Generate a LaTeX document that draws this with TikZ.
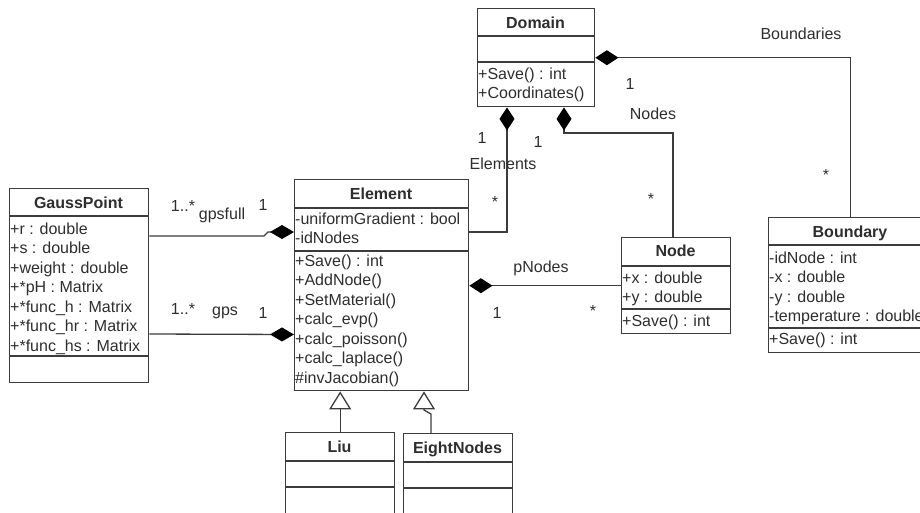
\documentclass[tikz,border=0pt]{standalone}
\usepackage{fontspec}
\setmainfont{Liberation Sans}
\usetikzlibrary{arrows.meta}
\definecolor{ln}{HTML}{3C3C3C}
\definecolor{tx}{HTML}{2E2E2E}
\begin{document}
\begin{tikzpicture}[x=1pt,y=-1pt,
  box/.style={draw=ln, line width=1.4pt, fill=white, inner sep=0pt, anchor=north west},
  sepl/.style={draw=ln, line width=1.4pt},
  ttl/.style={font=\fontsize{16}{19}\selectfont\bfseries, text=tx, inner sep=0pt, anchor=base},
  row/.style={font=\fontsize{16}{19}\selectfont, text=tx, inner sep=0pt, anchor=base west},
  lbl/.style={font=\fontsize{16}{19}\selectfont, text=tx, inner sep=0pt, anchor=base},
  conn/.style={draw=ln, line width=1.3pt},
  comps/.style={conn, {Diamond[length=23pt,width=15pt,fill=black,color=black]}-},
  compe/.style={conn, -{Diamond[length=24pt,width=14pt,fill=black,color=black]}},
  inh/.style={conn, -{Triangle[open,length=18pt,width=22pt,fill=white]}},
]
\useasboundingbox (0,0) rectangle (920,512);

% ---------- Domain ----------
\node[box, minimum width=117pt, minimum height=98pt] (dom) at (477,8) {};
\draw[sepl] (dom.west |- 0,36) -- (dom.east |- 0,36);
\draw[sepl] (dom.west |- 0,62) -- (dom.east |- 0,62);
\node[ttl] (domt) at (535.5,28) {Domain};
\node[row] (dom1) at (478,79) {+Save() : int};
\node[row] (dom2) at (478,98.5) {+Coordinates()};

% ---------- Element ----------
\node[box, minimum width=174pt, minimum height=211pt] (el) at (294,179) {};
\draw[sepl] (el.west |- 0,208) -- (el.east |- 0,208);
\draw[sepl] (el.west |- 0,251) -- (el.east |- 0,251);
\node[ttl] (elt) at (381,199) {Element};
\node[row] (el1) at (295,224) {-uniformGradient : bool};
\node[row] (el2) at (295,243.5) {-idNodes};
\node[row] (el3) at (295,266) {+Save() : int};
\node[row] (el4) at (295,285.5) {+AddNode()};
\node[row] (el5) at (295,305) {+SetMaterial()};
\node[row] (el6) at (295,324.5) {+calc\_evp()};
\node[row] (el7) at (295,344) {+calc\_poisson()};
\node[row] (el8) at (295,363.5) {+calc\_laplace()};
\node[row] (el9) at (295,383) {\#invJacobian()};

% ---------- GaussPoint ----------
\node[box, minimum width=139pt, minimum height=194pt] (gp) at (9,188) {};
\draw[sepl] (gp.west |- 0,216) -- (gp.east |- 0,216);
\draw[sepl] (gp.west |- 0,356) -- (gp.east |- 0,356);
\node[ttl] (gpt) at (78.5,208) {GaussPoint};
\node[row] (gp1) at (10,234) {+r : double};
\node[row] (gp2) at (10,253.5) {+s : double};
\node[row] (gp3) at (10,273) {+weight : double};
\node[row] (gp4) at (10,292.5) {+*pH : Matrix};
\node[row] (gp5) at (10,312) {+*func\_h : Matrix};
\node[row] (gp6) at (10,331.5) {+*func\_hr : Matrix};
\node[row] (gp7) at (10,351) {+*func\_hs : Matrix};

% ---------- Node ----------
\node[box, minimum width=109pt, minimum height=96pt] (nd) at (621,237) {};
\draw[sepl] (nd.west |- 0,266) -- (nd.east |- 0,266);
\draw[sepl] (nd.west |- 0,309) -- (nd.east |- 0,309);
\node[ttl] (ndt) at (675.5,256) {Node};
\node[row] (nd1) at (622,283) {+x : double};
\node[row] (nd2) at (622,302) {+y : double};
\node[row] (nd3) at (622,326) {+Save() : int};

% ---------- Boundary ----------
\node[box, minimum width=164pt, minimum height=135pt] (bd) at (768,217) {};
\draw[sepl] (bd.west |- 0,245) -- (bd.east |- 0,245);
\draw[sepl] (bd.west |- 0,328) -- (bd.east |- 0,328);
\node[ttl] (bdt) at (850,237) {Boundary};
\node[row] (bd1) at (769,263) {-idNode : int};
\node[row] (bd2) at (769,282.5) {-x : double};
\node[row] (bd3) at (769,302) {-y : double};
\node[row] (bd4) at (769,321) {-temperature : double};
\node[row] (bd5) at (769,344) {+Save() : int};

% ---------- Liu ----------
\node[box, minimum width=109pt, minimum height=110pt] (liu) at (285,432) {};
\draw[sepl] (liu.west |- 0,461) -- (liu.east |- 0,461);
\draw[sepl] (liu.west |- 0,487) -- (liu.east |- 0,487);
\node[ttl] (liut) at (339.5,452) {Liu};

% ---------- EightNodes ----------
\node[box, minimum width=109pt, minimum height=110pt] (en) at (403,433) {};
\draw[sepl] (en.west |- 0,462) -- (en.east |- 0,462);
\draw[sepl] (en.west |- 0,488) -- (en.east |- 0,488);
\node[ttl] (ent) at (457.5,453) {EightNodes};

% ---------- connectors ----------
\draw[comps] (dom.east) -| (bd.north);
\draw[comps] (dom.south -| 507,0) |- (el.east |- 0,232);
\draw[comps] (dom.south -| 564,0) |- (673,133) -| (nd.north -| 673,0);
\draw[comps] (el.east |- nd.west) -- (nd.west);
\draw[compe] (gp.east |- 0,236) -- (264,236) -- (268,232) -- (el.west |- 0,232);
\draw[compe] (gp.east |- 0,334) -- (el.west |- 0,334.5);
\draw[inh] (liu.north) -- (el.south -| liu.north);
\draw[inh] (en.north -| 431,0) -- (431,414) -- (424,410) -- (el.south -| 424,0);

% ---------- labels ----------
\node[lbl] (lb1) at (801,39) {Boundaries};
\node[lbl] (lb2) at (630,89) {1};
\node[lbl] (lb3) at (653,119) {Nodes};
\node[lbl] (lb4) at (826,180) {*};
\node[lbl] (lb5) at (482,143) {1};
\node[lbl] (lb6) at (538,147) {1};
\node[lbl] (lb7) at (503,169) {Elements};
\node[lbl] (lb8) at (495,207) {*};
\node[lbl] (lb9) at (651,204) {*};
\node[lbl] (lb10) at (541,272) {pNodes};
\node[lbl] (lb11) at (497,318) {1};
\node[lbl] (lb12) at (593,316) {*};
\node[lbl] (lb13) at (183,211) {1..*};
\node[lbl] (lb14) at (222,219) {gpsfull};
\node[lbl] (lb15) at (263,210) {1};
\node[lbl] (lb16) at (183,314) {1..*};
\node[lbl] (lb17) at (225,315) {gps};
\node[lbl] (lb18) at (263,318) {1};
\end{tikzpicture}
\end{document}
